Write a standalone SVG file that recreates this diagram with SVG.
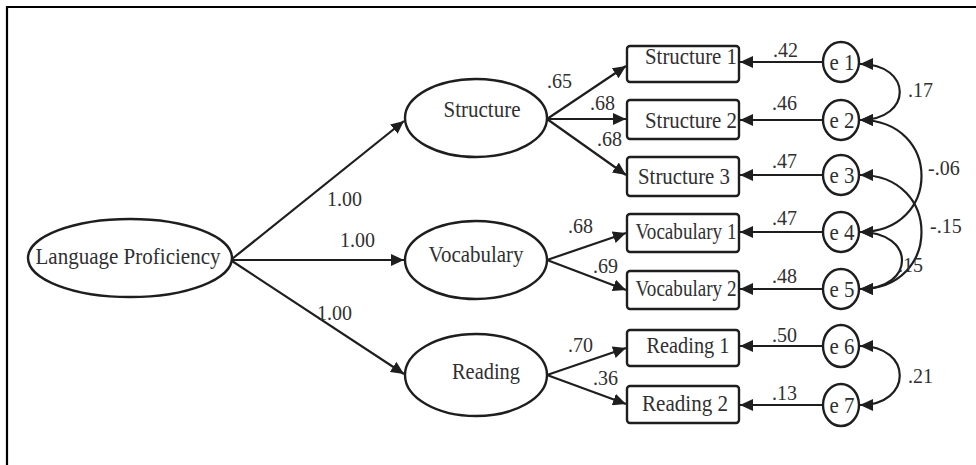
<svg xmlns="http://www.w3.org/2000/svg" width="976" height="465" viewBox="0 0 976 465">
<style>
  .shape { fill: #fff; stroke: #1e1e1e; stroke-width: 2.4; }
  .lbl { font-family: "Liberation Serif", "Times New Roman", serif; font-size: 23px; fill: #303030; text-anchor: middle; }
  .num { font-family: "Liberation Serif", "Times New Roman", serif; font-size: 20px; fill: #303030; }
  .edge { fill: none; stroke: #1e1e1e; stroke-width: 2.2; }
</style>
<defs>
  <marker id="ah" markerUnits="userSpaceOnUse" markerWidth="14" markerHeight="12" refX="13" refY="6" orient="auto-start-reverse">
    <path d="M0,0 L13,6 L0,12 z" fill="#1e1e1e"/>
  </marker>
</defs>
<rect width="976" height="465" fill="#fff"/>
<path d="M7,465 L7,7 L976,7" fill="none" stroke="#000" stroke-width="2.2"/>

<g id="connectors">
  <line class="edge" x1="232" y1="259" x2="404" y2="121" marker-end="url(#ah)"/>
  <line class="edge" x1="232" y1="260" x2="404" y2="260" marker-end="url(#ah)"/>
  <line class="edge" x1="232" y1="261" x2="404" y2="374" marker-end="url(#ah)"/>
  <line class="edge" x1="547" y1="119" x2="626" y2="66" marker-end="url(#ah)"/>
  <line class="edge" x1="547" y1="119" x2="626" y2="119" marker-end="url(#ah)"/>
  <line class="edge" x1="547" y1="119" x2="626" y2="175" marker-end="url(#ah)"/>
  <line class="edge" x1="547" y1="260" x2="626" y2="233" marker-end="url(#ah)"/>
  <line class="edge" x1="547" y1="260" x2="626" y2="290" marker-end="url(#ah)"/>
  <line class="edge" x1="547" y1="375" x2="626" y2="348" marker-end="url(#ah)"/>
  <line class="edge" x1="547" y1="375" x2="626" y2="404" marker-end="url(#ah)"/>
  <line class="edge" x1="823" y1="62" x2="740" y2="62" marker-end="url(#ah)"/>
  <line class="edge" x1="823" y1="120" x2="740" y2="120" marker-end="url(#ah)"/>
  <line class="edge" x1="823" y1="175" x2="740" y2="175" marker-end="url(#ah)"/>
  <line class="edge" x1="823" y1="232" x2="740" y2="232" marker-end="url(#ah)"/>
  <line class="edge" x1="823" y1="289" x2="740" y2="289" marker-end="url(#ah)"/>
  <line class="edge" x1="823" y1="346" x2="740" y2="346" marker-end="url(#ah)"/>
  <line class="edge" x1="823" y1="405" x2="740" y2="405" marker-end="url(#ah)"/>
  <path class="edge" d="M860,64 C913,64 913,120 860,120" marker-start="url(#ah)" marker-end="url(#ah)"/>
  <path class="edge" d="M860,120 C942,120 942,232 860,232" marker-start="url(#ah)" marker-end="url(#ah)"/>
  <path class="edge" d="M860,175 C942,175 942,289 860,289" marker-start="url(#ah)" marker-end="url(#ah)"/>
  <path class="edge" d="M860,232 C916,232 916,289 860,289" marker-start="url(#ah)" marker-end="url(#ah)"/>
  <path class="edge" d="M860,346 C913,346 913,405 860,405" marker-start="url(#ah)" marker-end="url(#ah)"/>

  <text class="num" x="327" y="206">1.00</text>
  <text class="num" x="340" y="247">1.00</text>
  <text class="num" x="317" y="320">1.00</text>
  <text class="num" x="547" y="88">.65</text>
  <text class="num" x="590" y="110">.68</text>
  <text class="num" x="597" y="146">.68</text>
  <text class="num" x="568" y="233">.68</text>
  <text class="num" x="593" y="273">.69</text>
  <text class="num" x="568" y="352">.70</text>
  <text class="num" x="593" y="385">.36</text>
  <text class="num" x="773" y="57">.42</text>
  <text class="num" x="772" y="110">.46</text>
  <text class="num" x="772" y="168">.47</text>
  <text class="num" x="772" y="225">.47</text>
  <text class="num" x="772" y="283">.48</text>
  <text class="num" x="772" y="342">.50</text>
  <text class="num" x="772" y="400">.13</text>
  <text class="num" x="908" y="97">.17</text>
  <text class="num" x="928" y="175">-.06</text>
  <text class="num" x="930" y="233">-.15</text>
  <text class="num" x="898" y="272">.15</text>
  <text class="num" x="908" y="383">.21</text>
</g>

<g id="language-proficiency">
  <ellipse class="shape" cx="130" cy="258" rx="102" ry="39"/>
  <text class="lbl" x="128" y="264" textLength="185" lengthAdjust="spacingAndGlyphs">Language Proficiency</text>
</g>
<g id="structure">
  <ellipse class="shape" cx="476" cy="118" rx="71" ry="39"/>
  <text class="lbl" x="482" y="117" textLength="77" lengthAdjust="spacingAndGlyphs">Structure</text>
</g>
<g id="vocabulary">
  <ellipse class="shape" cx="476" cy="260" rx="71" ry="39"/>
  <text class="lbl" x="476" y="262" textLength="95" lengthAdjust="spacingAndGlyphs">Vocabulary</text>
</g>
<g id="reading">
  <ellipse class="shape" cx="476" cy="375" rx="71" ry="41"/>
  <text class="lbl" x="486" y="379" textLength="68" lengthAdjust="spacingAndGlyphs">Reading</text>
</g>

<g id="structure-1"><rect class="shape" x="627" y="46" width="112" height="36" rx="3"/><text class="lbl" x="691" y="64" textLength="92" lengthAdjust="spacingAndGlyphs">Structure 1</text></g>
<g id="structure-2"><rect class="shape" x="627" y="100" width="112" height="39" rx="3"/><text class="lbl" x="691" y="128" textLength="92" lengthAdjust="spacingAndGlyphs">Structure 2</text></g>
<g id="structure-3"><rect class="shape" x="627" y="157" width="112" height="39" rx="3"/><text class="lbl" x="684" y="184" textLength="92" lengthAdjust="spacingAndGlyphs">Structure 3</text></g>
<g id="vocabulary-1"><rect class="shape" x="627" y="214" width="112" height="38" rx="3"/><text class="lbl" x="686" y="239" textLength="101" lengthAdjust="spacingAndGlyphs">Vocabulary 1</text></g>
<g id="vocabulary-2"><rect class="shape" x="627" y="271" width="112" height="38" rx="3"/><text class="lbl" x="686" y="296" textLength="101" lengthAdjust="spacingAndGlyphs">Vocabulary 2</text></g>
<g id="reading-1"><rect class="shape" x="627" y="330" width="112" height="36" rx="3"/><text class="lbl" x="688" y="353" textLength="83" lengthAdjust="spacingAndGlyphs">Reading 1</text></g>
<g id="reading-2"><rect class="shape" x="627" y="386" width="112" height="37" rx="3"/><text class="lbl" x="685" y="411" textLength="86" lengthAdjust="spacingAndGlyphs">Reading 2</text></g>

<g id="e1"><ellipse class="shape" cx="841" cy="62" rx="18" ry="20"/><text class="lbl" x="842" y="70" textLength="25" lengthAdjust="spacingAndGlyphs">e 1</text></g>
<g id="e2"><ellipse class="shape" cx="841" cy="120" rx="18" ry="20"/><text class="lbl" x="842" y="128" textLength="25" lengthAdjust="spacingAndGlyphs">e 2</text></g>
<g id="e3"><ellipse class="shape" cx="841" cy="175" rx="18" ry="20"/><text class="lbl" x="842" y="183" textLength="25" lengthAdjust="spacingAndGlyphs">e 3</text></g>
<g id="e4"><ellipse class="shape" cx="841" cy="232" rx="18" ry="20"/><text class="lbl" x="842" y="240" textLength="25" lengthAdjust="spacingAndGlyphs">e 4</text></g>
<g id="e5"><ellipse class="shape" cx="841" cy="289" rx="18" ry="20"/><text class="lbl" x="842" y="297" textLength="25" lengthAdjust="spacingAndGlyphs">e 5</text></g>
<g id="e6"><ellipse class="shape" cx="841" cy="346" rx="18" ry="21"/><text class="lbl" x="842" y="354" textLength="25" lengthAdjust="spacingAndGlyphs">e 6</text></g>
<g id="e7"><ellipse class="shape" cx="841" cy="405" rx="18" ry="21"/><text class="lbl" x="842" y="413" textLength="25" lengthAdjust="spacingAndGlyphs">e 7</text></g>
</svg>
